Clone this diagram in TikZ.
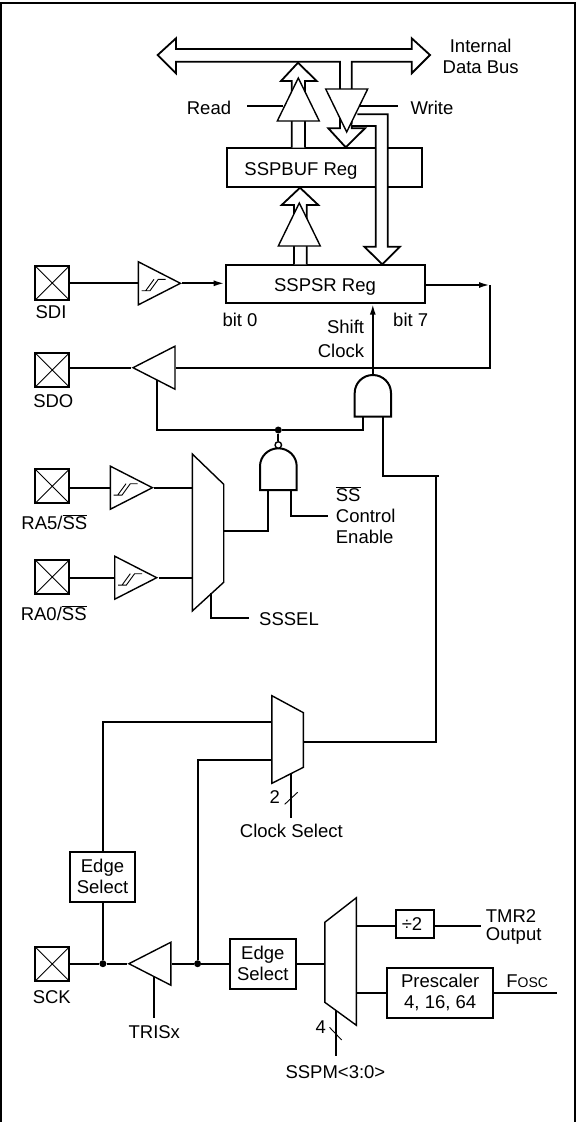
\documentclass[tikz,border=0pt]{standalone}
\usepackage{fontspec}
\setmainfont{Liberation Sans}
\usetikzlibrary{arrows.meta,shapes.geometric}
\newcommand{\ssbar}{$\overline{\mbox{SS}}$}
\newcommand{\hyst}[1]{%
  \draw[line width=.9pt,shift={(#1)}] (4,7.4) -- (12.3,7.4) -- (20.6,-4) -- (28,-4)
    (8,7.4) -- (16.3,-4);}
\tikzset{
  wire/.style={line width=2pt},
  thinline/.style={line width=1.4pt},
  sigarrow/.style={wire,-{Latex[length=11pt,width=6pt]}},
  regbox/.style={draw,line width=2pt,rectangle,fill=white,inner sep=0pt},
  pad/.style={draw,line width=2pt,rectangle,inner sep=0pt,minimum width=34pt,minimum height=34pt,
    path picture={\draw[line width=.9pt] (path picture bounding box.north west) -- (path picture bounding box.south east)
      (path picture bounding box.north east) -- (path picture bounding box.south west);}},
  label/.style={inner sep=0pt,align=center},
  tagleft/.style={inner sep=0pt,align=left,anchor=west},
  buf/.style={draw,thinline,fill=white,isosceles triangle,isosceles triangle stretches,inner sep=0pt,
    minimum height=42pt,minimum width=43pt,anchor=lower side},
  bufleft/.style={buf,shape border rotate=180},
  bufup/.style={buf,shape border rotate=90,minimum height=43pt,minimum width=42pt},
  bufdown/.style={buf,shape border rotate=-90,minimum height=43pt,minimum width=42pt},
  hollow/.style={draw,line width=1.8pt,fill=white,line join=miter},
  mux/.style={draw,thinline,fill=white},
  gate/.style={draw,wire,fill=white},
  dotnode/.style={circle,fill,inner sep=0pt,minimum size=7pt}
}
\begin{document}
\begin{tikzpicture}[x=1pt,y=-1pt,font=\fontsize{18.5}{22}\selectfont]
  \useasboundingbox (0,0) rectangle (576,1122);
  % frame
  \draw[line width=2pt] (1,1122) -- (1,3) -- (575,3) -- (575,1122);

  % registers
  \node[regbox,minimum width=195.6pt,minimum height=39pt] (sspbuf) at (324.5,167.2) {};
  \node[label] (sspbuftext) at (301,170.5) {SSPBUF Reg};
  \node[regbox,minimum width=199.3pt,minimum height=37.7pt] (sspsr) at (325.3,283.8) {};
  \node[label] (sspsrtext) at (325,286.5) {SSPSR Reg};

  % data bus
  \draw[hollow] (157.7,55) -- (176,38.3) -- (176,49) -- (411.7,49) -- (411.7,38.3) -- (430,55) -- (411.7,73.3)
    -- (411.7,61.7) -- (351.7,61.7) -- (351.7,90) -- (340,90) -- (340,61.7) -- (176,61.7) -- (176,73.3) -- cycle;
  \node[label] (busname) at (480.7,56.5) {Internal\\[-1.5pt]Data Bus};

  % read path
  \draw[hollow] (291.7,147.7) -- (291.7,81) -- (281,81) -- (298,62.7) -- (316.7,81) -- (305,81) -- (305,147.7);
  \node[bufup] (rdbuf) at (298.3,121.7) {};
  \node[label] (read) at (209,108.3) {Read};
  \coordinate (rdend) at (247.3,106);
  \draw[wire] (rdend) -- (283,106);

  % write path
  \draw[hollow] (340,90) -- (340,128.3) -- (328.3,128.3) -- (345.7,147.3) -- (365,128.3) -- (351.7,128.3) -- (351.7,90);
  \draw[hollow] (351.7,126) -- (375.7,126) -- (375.7,246.7) -- (364.3,246.7) -- (382.3,264.3) -- (400,246.7)
    -- (387.7,246.7) -- (387.7,114.3) -- (357.3,114.3);
  \node[bufdown] (wrbuf) at (346.7,88.3) {};
  \node[label] (write) at (432,108.3) {Write};
  \coordinate (wrend) at (397.7,106);
  \draw[wire] (wrend) -- (360,106);

  % SSPSR to SSPBUF
  \draw[hollow] (294,264.3) -- (294,205) -- (281.7,205) -- (300,187.7) -- (318.3,205) -- (306.7,205) -- (306.7,264.3);
  \node[bufup] (xferbuf) at (299.3,246.7) {};

  % SDI
  \node[pad] (sdi) at (52.2,283) {};
  \node[label] (sditext) at (51,311.7) {SDI};
  \node[buf] (sdibuf) at (137.7,283.3) {};
  \hyst{sdibuf.lower side}
  \draw[wire] (sdi.east |- sdibuf.lower side) -- (sdibuf.lower side);
  \draw[sigarrow] (sdibuf.apex) -- (sspsr.west |- sdibuf.apex);
  \node[label] (bit0) at (240,320) {bit 0};
  \node[label] (bit7) at (410.7,320) {bit 7};

  % SDO and shift clock
  \coordinate (sdoturn) at (490,285);
  \draw[sigarrow] (sspsr.east |- sdoturn) -- (sdoturn);
  \node[pad] (sdo) at (52.2,370) {};
  \node[label] (sdotext) at (53.3,400.7) {SDO};
  \node[bufleft] (sdobuf) at (175.7,367.7) {};
  \draw[wire] (sdo.east |- sdobuf.apex) -- (sdobuf.apex);
  \draw[wire] (sdoturn) |- (sdobuf.lower side);
  \draw[gate] (354.7,416.7) -- (354.7,393) arc[x radius=18.15,y radius=18,start angle=180,end angle=360] -- (391,416.7) -- cycle;
  \coordinate (andout) at (372.8,375);
  \coordinate (andina) at (363.3,416.7);
  \coordinate (andinb) at (382.7,416.7);
  \draw[sigarrow] (andout) -- (sspsr.south -| andout);
  \node[label,anchor=east] (shift) at (364.3,326.7) {Shift};
  \node[label,anchor=east] (clock) at (364.3,350.7) {Clock};
  \coordinate (sdoen) at (156.7,379.5);
  \node[dotnode] (endot) at (278.3,430) {};
  \draw[wire] (sdoen) |- (endot) -| (andina);

  % slave select
  \node[pad] (ra5) at (52.2,486.3) {};
  \node[label] (ra5text) at (54.3,521.7) {RA5/\ssbar};
  \node[buf] (ra5buf) at (109.7,487.7) {};
  \hyst{ra5buf.lower side}
  \node[pad] (ra0) at (52.2,577) {};
  \node[label] (ra0text) at (53.7,613.3) {RA0/\ssbar};
  \node[buf] (ra0buf) at (114,577.7) {};
  \hyst{ra0buf.lower side}
  \draw[mux] (192.3,454) coordinate (ssmuxa) -- (223.7,484.3) -- (223.7,582.3) -- (192.3,611) coordinate (ssmuxb) -- cycle;
  \draw[wire] (ra5.east |- ra5buf.lower side) -- (ra5buf.lower side);
  \draw[wire] (ra5buf.apex) -- (ssmuxa |- ra5buf.apex);
  \draw[wire] (ra0.east |- ra0buf.lower side) -- (ra0buf.lower side);
  \draw[wire] (ra0buf.apex) -- (ssmuxa |- ra0buf.apex);
  \coordinate (sssel) at (210.7,593);
  \node[tagleft] (ssseltext) at (259,619.3) {SSSEL};
  \draw[wire] (sssel) |- (249,617.7);

  \draw[gate] (260,490) -- (260,466.3) arc[x radius=18.35,y radius=18,start angle=180,end angle=360] -- (296.7,490) -- cycle;
  \node[circle,draw,thinline,fill=white,inner sep=0pt,minimum size=6.5pt] (bubble) at (278.3,445) {};
  \draw[wire] (endot) -- (bubble);
  \coordinate (nandina) at (268,490);
  \coordinate (nandinb) at (291,490);
  \draw[wire] (nandina) |- (224,531);
  \node[tagleft] (sstext) at (335.7,494) {\ssbar};
  \node[tagleft] (ctrltext) at (335.7,516) {Control};
  \node[tagleft] (enabletext) at (335.7,536.7) {Enable};
  \draw[wire] (nandinb) |- (327.7,516);

  % clock select
  \draw[mux] (271.9,695.7) -- (303.4,712.7) -- (303.4,767.3) -- (271.9,783.3) -- cycle;
  \coordinate (clkmuxout) at (303.4,741.7);
  \coordinate (clkturn) at (436,476);
  \draw[wire] (andinb) |- (438.5,476);
  \draw[wire] (clkmuxout) -| (clkturn);
  \draw[wire] (291,773) -- coordinate (clkbus) (291,818.3);
  \draw[line width=.9pt] (284.7,804.3) -- (297.6,792.3);
  \node[label] (twotext) at (274.8,797.3) {2};
  \node[label] (clkseltext) at (291.3,830.7) {Clock Select};

  % SCK
  \node[pad] (sck) at (52.2,964) {};
  \node[label] (scktext) at (51.8,997.3) {SCK};
  \node[regbox,minimum width=65.4pt,minimum height=50.3pt,align=center] (edgea) at (102.5,876.8) {Edge\\[-1pt]Select};
  \node[bufleft] (sckbuf) at (171.6,963.7) {};
  \node[dotnode] (sckdot) at (102.9,963.7) {};
  \node[dotnode] (bufdot) at (197.6,963.7) {};
  \node[regbox,minimum width=66.5pt,minimum height=50.3pt,align=center] (edgeb) at (262.8,963.8) {Edge\\[-1pt]Select};
  \draw[wire] (sck.east |- sckdot) -- (sckdot) -- (sckbuf.apex);
  \draw[wire] (sckbuf.lower side) -- (bufdot) -- (edgeb.west |- bufdot);
  \draw[wire] (sckdot) -- (sckdot |- edgea.south);
  \draw[wire] (sckdot |- edgea.north) |- (271.9,722);
  \draw[wire] (bufdot) |- (271.9,759.7);
  \coordinate (trisin) at (153.6,976);
  \draw[wire] (trisin) -- (153.6,1017.7);
  \node[label] (tristext) at (154.3,1032.3) {TRISx};

  % clock source mux
  \draw[mux] (324.8,922.3) -- (356.4,897.7) -- (356.4,1025.3) -- (324.8,1002.3) -- cycle;
  \draw[wire] (edgeb.east |- bufdot) -- (324.8,963.7);
  \node[regbox,minimum width=38.5pt,minimum height=28.3pt] (divtwo) at (415,923.9) {\kern-6pt÷2};
  \node[regbox,minimum width=106.5pt,minimum height=50.3pt,align=center] (prescale) at (440.2,992.8) {\raisebox{-1.5pt}{Prescaler}\\[-1pt]\raisebox{-1.5pt}{4, 16, 64}};
  \draw[wire] (356.4,925.7) -- (divtwo.west |- 0,925.7);
  \draw[wire] (divtwo.east |- 0,925.7) -- (480.5,925.7);
  \node[tagleft] (tmrtext) at (485.7,915.7) {TMR2};
  \node[tagleft] (outtext) at (485.7,936) {Output};
  \draw[wire] (356.4,992.7) -- (prescale.west |- 0,992.7);
  \draw[wire] (prescale.east |- 0,992.7) -- (556.6,992.7);
  \node[label] (fosctext) at (527.2,980.7) {F{\fontsize{14}{16}\selectfont OSC}};
  \draw[wire] (335.8,1010) -- (335.8,1055.7);
  \draw[line width=.9pt] (329.5,1027.3) -- (341.7,1040);
  \node[label] (fourtext) at (320.7,1027.3) {4};
  \node[label] (sspmtext) at (335.4,1071.7) {SSPM<3:0>};
\end{tikzpicture}
\end{document}
